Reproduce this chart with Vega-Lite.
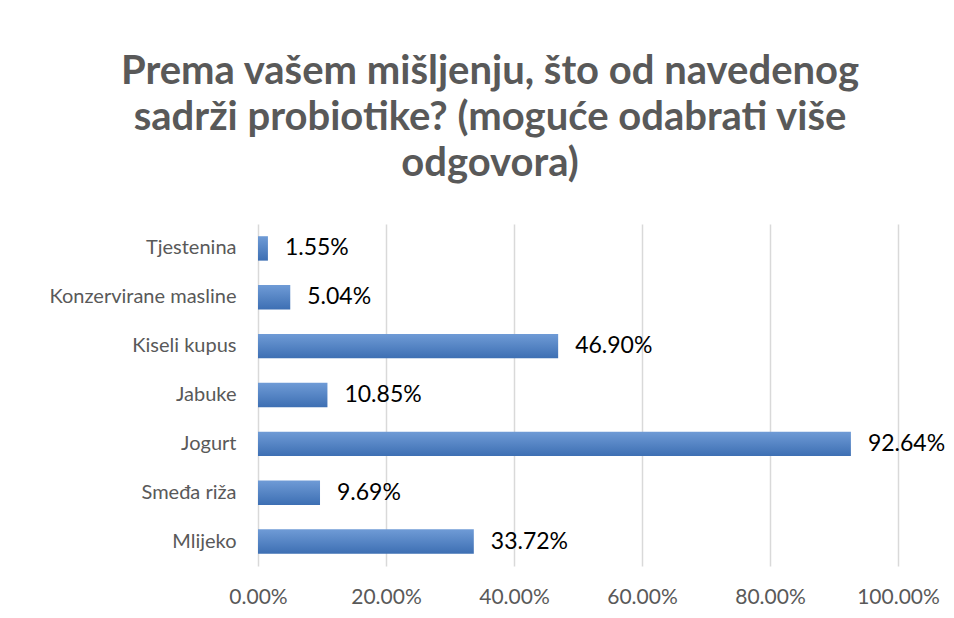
{
  "$schema": "https://vega.github.io/schema/vega-lite/v6.json",
  "width": 640,
  "height": 342,
  "autosize": {"type": "none"},
  "padding": {"left": 258, "top": 224, "right": 56, "bottom": 52},
  "background": "white",
  "title": {
    "text": ["Prema vašem mišljenju, što od navedenog", "sadrži probiotike? (moguće odabrati više", "odgovora)"],
    "font": "Lato",
    "fontSize": 40,
    "fontWeight": "bold",
    "color": "#595959",
    "anchor": "middle",
    "dx": -88,
    "offset": 40,
    "lineHeight": 46
  },
  "data": {
    "values": [
      {"item": "Tjestenina", "value": 0.0155},
      {"item": "Konzervirane masline", "value": 0.0504},
      {"item": "Kiseli kupus", "value": 0.469},
      {"item": "Jabuke", "value": 0.1085},
      {"item": "Jogurt", "value": 0.9264},
      {"item": "Smeđa riža", "value": 0.0969},
      {"item": "Mlijeko", "value": 0.3372}
    ]
  },
  "encoding": {
    "y": {
      "field": "item",
      "type": "nominal",
      "sort": null,
      "scale": {"paddingInner": 0.5, "paddingOuter": 0.25},
      "axis": {
        "title": null,
        "ticks": false,
        "domain": false,
        "labelFont": "Lato",
        "labelFontSize": 20,
        "labelColor": "#595959",
        "labelPadding": 22,
        "labelLimit": 300
      }
    },
    "x": {
      "field": "value",
      "type": "quantitative",
      "scale": {"domain": [0, 1]},
      "axis": {
        "title": null,
        "format": ".2%",
        "values": [0, 0.2, 0.4, 0.6, 0.8, 1],
        "ticks": false,
        "domain": false,
        "grid": true,
        "gridColor": "#d9d9d9",
        "gridWidth": 1.5,
        "labelFont": "Lato",
        "labelFontSize": 21,
        "labelColor": "#595959",
        "labelPadding": 20,
        "labelFlush": false,
        "labelOverlap": false
      }
    }
  },
  "layer": [
    {
      "mark": {
        "type": "bar",
        "color": {
          "gradient": "linear",
          "x1": 0, "y1": 0, "x2": 0, "y2": 1,
          "stops": [
            {"offset": 0, "color": "#6f9bd6"},
            {"offset": 1, "color": "#3d6fb3"}
          ]
        }
      }
    },
    {
      "mark": {
        "type": "text",
        "align": "left",
        "baseline": "middle",
        "dx": 17,
        "font": "Lato",
        "fontSize": 23,
        "color": "#000000"
      },
      "encoding": {
        "text": {"field": "value", "type": "quantitative", "format": ".2%"}
      }
    }
  ],
  "config": {"view": {"stroke": null}}
}
